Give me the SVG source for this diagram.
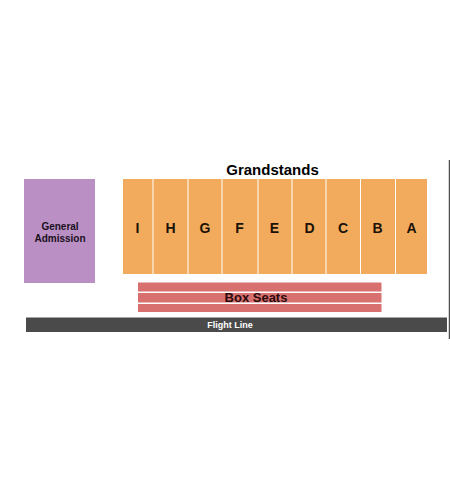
<svg xmlns="http://www.w3.org/2000/svg" width="450" height="500" viewBox="0 0 450 500">
<style>
text{font-family:"Liberation Sans",Arial,sans-serif;font-weight:bold;text-anchor:middle}
.gs{fill:#f2ab5c}
.lt{font-size:14px;fill:#1a1208}
.bx{fill:#d97070}
</style>
<rect width="450" height="500" fill="#ffffff"/>
<g id="general-admission">
<rect x="24" y="179" width="71" height="104" fill="#b98fc4"/>
<text x="60" y="229.5" font-size="10" fill="#1a1020">General</text>
<text x="60" y="241.8" font-size="10" fill="#1a1020">Admission</text>
</g>
<g id="grandstands">
<text x="272.5" y="175" font-size="15" fill="#000">Grandstands</text>
<g id="sec-I"><rect class="gs" x="123" y="179" width="29.5" height="95"/><text class="lt" x="137.5" y="232.5">I</text></g>
<g id="sec-H"><rect class="gs" x="153.5" y="179" width="34" height="95"/><text class="lt" x="170.5" y="232.5">H</text></g>
<g id="sec-G"><rect class="gs" x="188.5" y="179" width="33" height="95"/><text class="lt" x="205" y="232.5">G</text></g>
<g id="sec-F"><rect class="gs" x="222.5" y="179" width="35" height="95"/><text class="lt" x="239.5" y="232.5">F</text></g>
<g id="sec-E"><rect class="gs" x="258.5" y="179" width="33" height="95"/><text class="lt" x="274.5" y="232.5">E</text></g>
<g id="sec-D"><rect class="gs" x="292.5" y="179" width="33" height="95"/><text class="lt" x="309.5" y="232.5">D</text></g>
<g id="sec-C"><rect class="gs" x="326.5" y="179" width="33.5" height="95"/><text class="lt" x="343" y="232.5">C</text></g>
<g id="sec-B"><rect class="gs" x="361" y="179" width="34" height="95"/><text class="lt" x="377.5" y="232.5">B</text></g>
<g id="sec-A"><rect class="gs" x="396" y="179" width="31" height="95"/><text class="lt" x="411.5" y="232.5">A</text></g>
</g>
<g id="box-seats">
<rect class="bx" x="138" y="282.5" width="243.5" height="9"/>
<rect class="bx" x="138" y="293" width="243.5" height="9.5"/>
<rect class="bx" x="138" y="304" width="243.5" height="8"/>
<text x="256" y="302" font-size="13" fill="#2a0a0a">Box Seats</text>
</g>
<g id="flight-line">
<rect x="26" y="317.5" width="421" height="14.5" fill="#4a4a4a"/>
<text x="230" y="328.3" font-size="9" fill="#ffffff">Flight Line</text>
</g>
<line x1="449.3" y1="160" x2="449.3" y2="339" stroke="#222" stroke-width="1"/>
</svg>
